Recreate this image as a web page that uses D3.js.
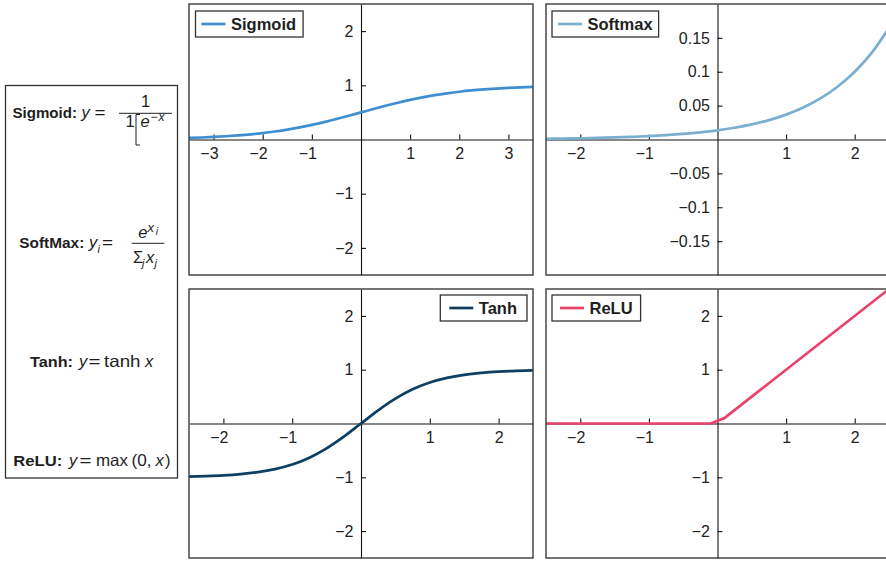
<!DOCTYPE html>
<html><head><meta charset="utf-8">
<script src="https://cdn.jsdelivr.net/npm/d3@7"></script>
<style>
body{margin:0;background:#fff;}
svg{display:block;font-family:"Liberation Sans",Arial,Helvetica,sans-serif;}
</style></head><body>
<svg id="chart" width="886" height="561"></svg>
<script>
// ---------------- data ----------------
const seriesNames = ["Sigmoid", "Softmax", "Tanh", "ReLU"];
const seriesColors = ["#3d8fd1", "#7aafd0", "#0e3f63", "#e8436a"];

const sigmoidX = [-3.5,-3.25,-3,-2.75,-2.5,-2.25,-2,-1.75,-1.5,-1.25,-1,-0.75,-0.5,-0.25,0,0.25,0.5,0.75,1,1.25,1.5,1.75,2,2.25,2.5,2.75,3,3.25,3.5];
const sigmoidY = [0.029,0.037,0.047,0.060,0.076,0.095,0.119,0.148,0.182,0.223,0.269,0.321,0.378,0.438,0.500,0.562,0.622,0.679,0.731,0.777,0.818,0.852,0.881,0.905,0.924,0.940,0.953,0.963,0.971];

const softmaxX = [-2.5,-2.25,-2,-1.75,-1.5,-1.25,-1,-0.75,-0.5,-0.25,0,0.25,0.5,0.75,1,1.25,1.5,1.75,2,2.25,2.5];
const softmaxY = [0.0011,0.0014,0.0018,0.0024,0.0030,0.0039,0.0050,0.0064,0.0082,0.0105,0.0135,0.0174,0.0223,0.0286,0.0367,0.0472,0.0606,0.0778,0.0999,0.1282,0.1646];

const tanhX = [-2.5,-2.25,-2,-1.75,-1.5,-1.25,-1,-0.75,-0.5,-0.25,0,0.25,0.5,0.75,1,1.25,1.5,1.75,2,2.25,2.5];
const tanhY = [-0.987,-0.978,-0.964,-0.941,-0.905,-0.848,-0.762,-0.635,-0.462,-0.245,0,0.245,0.462,0.635,0.762,0.848,0.905,0.941,0.964,0.978,0.987];

const reluX = [-2.5,-0.1,0.1,2.5];
const reluY = [0,0,0.1,2.5];

const sigmoidXTicks = [-3,-2,-1,1,2,3];
const commonXTicks = [-2,-1,1,2];
const unitYTicks = [-2,-1,1,2];
const softmaxYTicks = [-0.15,-0.1,-0.05,0.05,0.1,0.15];

// ---------------- layout ----------------
const panels = [
  {name:0, xs:sigmoidX, ys:sigmoidY, xDomain:[-3.5,3.5], yDomain:[-2.5,2.5], xTicks:sigmoidXTicks, yTicks:unitYTicks,
   x0:189, x1:533, y0:4, y1:275, legend:{x:195.5, y:11, align:"left", padL:6, padR:7}, curve:d3.curveMonotoneX},
  {name:1, xs:softmaxX, ys:softmaxY, xDomain:[-2.5,2.5], yDomain:[-0.2,0.2], xTicks:commonXTicks, yTicks:softmaxYTicks,
   x0:546, x1:889, y0:4, y1:275, legend:{x:552, y:11, align:"left", padL:6, padR:6}, curve:d3.curveMonotoneX},
  {name:2, xs:tanhX, ys:tanhY, xDomain:[-2.5,2.5], yDomain:[-2.5,2.5], xTicks:commonXTicks, yTicks:unitYTicks,
   x0:189, x1:533, y0:289, y1:558, legend:{x:527, y:295, align:"right", padL:9, padR:10}, curve:d3.curveMonotoneX},
  {name:3, xs:reluX, ys:reluY, xDomain:[-2.5,2.5], yDomain:[-2.5,2.5], xTicks:commonXTicks, yTicks:unitYTicks,
   x0:546, x1:889, y0:289, y1:558, legend:{x:552, y:295, align:"left", padL:8, padR:8}, curve:d3.curveLinear}
];

const svg = d3.select("#chart");
const defs = svg.append("defs");
const fmt = d => (d < 0 ? "\u2212" : "") + String(Math.abs(d));

panels.forEach((p, i) => {
  const g = svg.append("g");
  const x = d3.scaleLinear().domain(p.xDomain).range([p.x0, p.x1]);
  const y = d3.scaleLinear().domain(p.yDomain).range([p.y1, p.y0]);

  defs.append("clipPath").attr("id", "clip" + i).append("rect")
    .attr("x", p.x0).attr("y", p.y0).attr("width", p.x1 - p.x0).attr("height", p.y1 - p.y0);

  const xa = d3.axisBottom(x).tickValues(p.xTicks).tickSizeInner(-5).tickSizeOuter(0).tickPadding(8).tickFormat(fmt);
  const gx = g.append("g").attr("transform", `translate(0,${y(0)})`).call(xa);
  const ya = d3.axisLeft(y).tickValues(p.yTicks).tickSizeInner(-5).tickSizeOuter(0).tickPadding(7.5).tickFormat(fmt);
  const gy = g.append("g").attr("transform", `translate(${x(0)},0)`).call(ya);
  [gx, gy].forEach(a => {
    a.attr("font-family", null).attr("font-size", null);
    a.select(".domain").attr("stroke", "#111").attr("stroke-width", 1.1);
    a.selectAll(".tick line").attr("stroke", "#111").attr("stroke-width", 1.1);
    a.selectAll(".tick text").attr("fill", "#222").style("font-size", "16px");
  });
  gx.selectAll(".tick text").attr("dx", d => d < 0 ? -4.6 : 0);

  const pts = p.xs.map((v, k) => [v, p.ys[k]]);
  g.append("path").datum(pts)
    .attr("clip-path", `url(#clip${i})`)
    .attr("fill", "none").attr("stroke", seriesColors[p.name]).attr("stroke-width", 2.7)
    .attr("stroke-linejoin", "round")
    .attr("d", d3.line().x(d => x(d[0])).y(d => y(d[1])).curve(p.curve));

  g.append("rect").attr("x", p.x0).attr("y", p.y0).attr("width", p.x1 - p.x0).attr("height", p.y1 - p.y0)
    .attr("fill", "none").attr("stroke", "#3a3a3a").attr("stroke-width", 1.4);

  // legend
  const L = p.legend;
  const lg = g.append("g");
  const box = lg.append("rect").attr("fill", "#fff").attr("stroke", "#333").attr("stroke-width", 1.3);
  const label = lg.append("text").text(seriesNames[p.name]).attr("font-weight", "bold")
    .style("font-size", "16.5px").attr("fill", "#1e1e1e");
  const tw = label.node().getComputedTextLength();
  const bw = L.padL + 24 + 5.5 + tw + L.padR, bh = 26;
  const bx = L.align === "left" ? L.x : L.x - bw;
  box.attr("x", bx).attr("y", L.y).attr("width", bw).attr("height", bh);
  lg.append("line").attr("x1", bx + L.padL).attr("x2", bx + L.padL + 24).attr("y1", L.y + bh / 2).attr("y2", L.y + bh / 2)
    .attr("stroke", seriesColors[p.name]).attr("stroke-width", 2.7);
  label.attr("x", bx + L.padL + 29.5).attr("y", L.y + bh / 2 + 6);
});

// ---------------- formula box ----------------
const ink = "#1e1e1e";
const fb = svg.append("g").attr("fill", ink).style("font-size", "16.5px");
fb.append("rect").attr("x", 5.5).attr("y", 85.5).attr("width", 172).attr("height", 392.5)
  .attr("fill", "none").attr("stroke", "#333").attr("stroke-width", 1.3);

function txt(x, y, s, opt = {}) {
  const t = fb.append("text").attr("x", x).attr("y", y).text(s);
  if (opt.b) t.attr("font-weight", "bold").style("font-size", "15.5px");
  if (opt.i) t.attr("font-style", "italic");
  if (opt.size) t.style("font-size", opt.size + "px");
  if (opt.anchor) t.attr("text-anchor", opt.anchor);
  if (opt.len) t.attr("textLength", opt.len).attr("lengthAdjust", "spacingAndGlyphs");
  return t;
}
function bar(x1, x2, y) {
  fb.append("line").attr("x1", x1).attr("x2", x2).attr("y1", y).attr("y2", y).attr("stroke", ink).attr("stroke-width", 1);
}

// Sigmoid
txt(12.5, 117.5, "Sigmoid:", {b: true, len: 64.5});
txt(81.5, 117.5, "y", {i: true});
txt(94.5, 117.5, "=", {len: 11});
txt(145.5, 106.5, "1", {anchor: "middle"});
bar(119, 172, 113.3);
txt(125.5, 127, "1");
fb.append("path").attr("d", "M140,114.5 H136 V145 H140").attr("fill", "none").attr("stroke", ink).attr("stroke-width", 1);
txt(140.5, 127, "e", {i: true});
txt(150.5, 121, "\u2212", {size: 12});
txt(158.5, 121, "x", {i: true, size: 12});

// SoftMax
txt(19.3, 248.3, "SoftMax:", {b: true, len: 65});
txt(89, 248.3, "y", {i: true});
txt(97.5, 252.5, "i", {i: true, size: 11});
txt(102, 248.3, "=", {len: 11});
bar(131.7, 164.3, 243.3);
txt(138.3, 238.3, "e", {i: true});
txt(147.5, 231.5, "x", {i: true, size: 13});
txt(155.8, 235, "i", {i: true, size: 10});
txt(133, 263.3, "\u03A3");
txt(142, 267, "j", {i: true, size: 11});
txt(146, 263.3, "x", {i: true});
txt(154.5, 267, "j", {i: true, size: 11});

// Tanh
txt(30, 367.3, "Tanh:", {b: true, len: 43});
txt(79, 367.3, "y", {i: true});
txt(88.5, 367.3, "=", {len: 12});
txt(104, 367.3, "tanh", {len: 36.5});
txt(145, 367.3, "x", {i: true});

// ReLU
txt(13.3, 466, "ReLU:", {b: true, len: 49});
txt(69, 466, "y", {i: true});
txt(79.5, 466, "=", {len: 12});
txt(96, 466, "max", {len: 32});
txt(131.5, 466, "(0,", {len: 20});
txt(155.5, 466, "x", {i: true});
txt(165, 466, ")");
</script>
</body></html>
